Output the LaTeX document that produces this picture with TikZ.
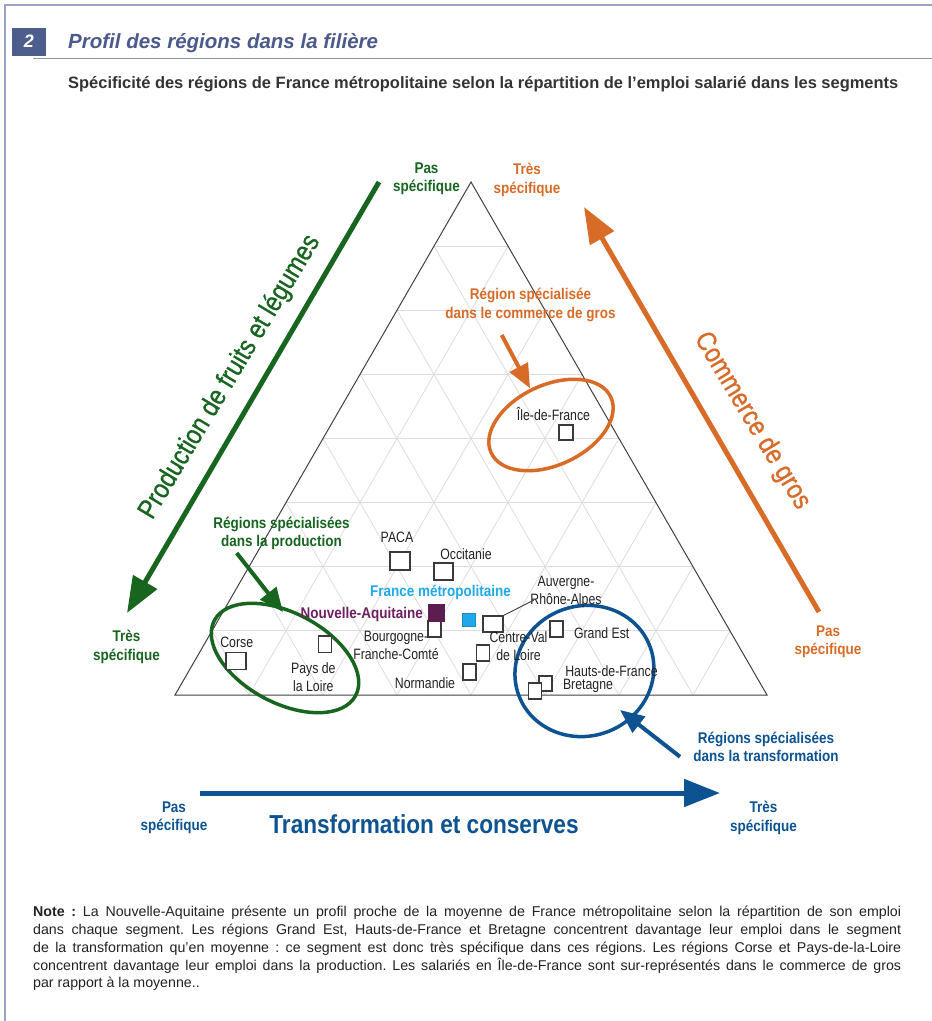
\documentclass[tikz,border=0pt]{standalone}
\usepackage{fontspec}
\setmainfont{Liberation Sans}
\newfontfamily\narrowf[FakeStretch=0.82]{Liberation Sans}
\newfontfamily\condf[FakeStretch=0.87]{Liberation Sans}
\newfontfamily\bigf[FakeStretch=0.86,FakeBold=0.8]{Liberation Sans}
\usetikzlibrary{calc,arrows.meta,shapes.geometric}
\definecolor{frameC}{HTML}{9AA3BF}
\definecolor{titleC}{HTML}{4B5A8A}
\definecolor{boxC}{HTML}{4E5E8C}
\definecolor{subC}{HTML}{333333}
\definecolor{gridC}{HTML}{DDDDDD}
\definecolor{triC}{HTML}{404040}
\definecolor{sqC}{HTML}{3A3A3A}
\definecolor{labC}{HTML}{222222}
\definecolor{greenC}{HTML}{17651F}
\definecolor{orangeC}{HTML}{D86B28}
\definecolor{blueC}{HTML}{0D5291}
\definecolor{cyanC}{HTML}{1FA8EA}
\definecolor{purpleC}{HTML}{5C1E4E}
\definecolor{purpleT}{HTML}{6E1F5F}
\definecolor{noteC}{HTML}{222222}
\begin{document}
\begin{tikzpicture}[x=1pt,y=-1pt,
  framel/.style={draw=frameC, line width=1.3pt},
  titleline/.style={draw=frameC!90!black, line width=1.3pt},
  gridline/.style={draw=gridC, line width=0.8pt},
  triline/.style={draw=triC, line width=1pt},
  sqbox/.style 2 args={draw=sqC, fill=white, line width=1.1pt, inner sep=0pt, minimum width=#1pt, minimum height=#2pt},
  reglab/.style={inner sep=0pt, text=labC, align=center, font=\narrowf\fontsize{15}{17.5}\selectfont},
  boldlab/.style={inner sep=0pt, align=center, font=\condf\bfseries\fontsize{15.5}{18.5}\selectfont},
  biglab/.style={inner sep=0pt, font=\bigf\fontsize{27.5}{30}\selectfont},
  bigarrow/.style={line width=5pt, -{Triangle[length=36pt,width=27pt]}},
  annarrow/.style={line width=4pt, -{Triangle[length=24pt,width=20pt]}},
  ringbox/.style={draw, ellipse, inner sep=0pt, line width=3.5pt}
]
\path[use as bounding box, fill=white] (0,0) rectangle (932,1021);

% frame
\draw[framel] (5,1021) -- (5,5) -- (932,5);

% header
\node[fill=boxC, minimum width=34pt, minimum height=28pt, inner sep=0pt, text=white,
      font=\bfseries\itshape\fontsize{18}{20}\selectfont] (num) at (29,41.5) {2};
\node[anchor=base west, inner sep=0pt, text=titleC,
      font=\bfseries\itshape\fontsize{20.5}{24}\selectfont] (title) at (68,48) {Profil des régions dans la filière};
\draw[titleline] (33,58.5) -- (932,58.5);
\node[anchor=base west, inner sep=0pt, text=subC,
      font=\bfseries\fontsize{16.45}{19}\selectfont] (sub) at (68,88)
  {Spécificité des régions de France métropolitaine selon la répartition de l’emploi salarié dans les segments};

% triangle and grid
\coordinate (A) at (175,695);
\coordinate (B) at (767,695);
\coordinate (C) at (471,182);
\foreach \i in {1,...,7} {
  \pgfmathsetmacro\t{\i/8}
  \draw[gridline] ($(A)!\t!(C)$) -- ($(B)!\t!(C)$);
  \draw[gridline] ($(A)!\t!(B)$) -- ($(C)!\t!(B)$);
  \draw[gridline] ($(B)!\t!(A)$) -- ($(C)!\t!(A)$);
}
\draw[triline] (A) -- (B) -- (C) -- cycle;

% ellipses
\node[ringbox, draw=orangeC, minimum width=132pt, minimum height=80pt, rotate=25] (oRing) at (551,425) {};
\node[ringbox, draw=greenC, minimum width=160pt, minimum height=90pt, rotate=-28] (gRing) at (285,658) {};
\node[ringbox, draw=blueC, minimum width=140pt, minimum height=130pt, rotate=20] (bRing) at (584.4,671) {};

% region squares
\node[sqbox={14}{15}] (idf) at (566,432.5) {};
\node[sqbox={20}{18}] (paca) at (400,561) {};
\node[sqbox={19}{17}] (occ) at (443.5,571.5) {};
\node[sqbox={13}{16}] (bfc) at (434.5,629) {};
\node[sqbox={16}{17}, fill=purpleC, draw=purpleC] (na) at (436.7,613.3) {};
\node[sqbox={13.5}{13.5}, fill=cyanC, draw=cyanC!85!black, line width=0.6pt] (fm) at (469,620) {};
\node[sqbox={20}{16}] (ara) at (493,624) {};
\node[sqbox={13}{16}] (cvl) at (483,653) {};
\node[sqbox={13}{16}] (nor) at (469.5,672) {};
\node[sqbox={13}{16}] (ge) at (556.5,629) {};
\node[sqbox={13}{15}] (hdf) at (545.5,683.5) {};
\node[sqbox={13.5}{16}] (bre) at (535,691) {};
\node[sqbox={20}{17}] (cor) at (236,661) {};
\node[sqbox={13.5}{16.7}] (pdl) at (325,644.3) {};

% region labels
\node[reglab] (idfL) at (553.5,414) {Île-de-France};
\node[reglab] (pacaL) at (397,537) {PACA};
\node[reglab] (occL) at (466,554) {Occitanie};
\node[boldlab, text=purpleT, anchor=east] (naL) at (423,614) {Nouvelle-Aquitaine};
\node[boldlab, text=cyanC] (fmL) at (440.5,592.3) {France métropolitaine};
\node[reglab] (bfcL) at (396,645.5) {Bourgogne-\\Franche-Comté};
\node[reglab] (araL) at (566,591.7) {Auvergne-\\Rhône-Alpes};
\node[reglab] (cvlL) at (518.5,646) {Centre-Val\\de Loire};
\node[reglab] (norL) at (425,683) {Normandie};
\node[reglab] (geL) at (601.7,633.3) {Grand Est};
\node[reglab] (hdfL) at (611.5,670.7) {Hauts-de-France};
\node[reglab] (breL) at (588,686) {Bretagne};
\node[reglab] (corL) at (236.7,642.7) {Corse};
\node[reglab] (pdlL) at (313.3,677) {Pays de\\la Loire};
\coordinate (araLead) at (534,600);
\draw[draw=sqC, line width=0.9pt] (ara.north east) -- (araLead);

% axis arrows
\coordinate (gS) at (379,182);
\coordinate (gE) at (127,613);
\draw[bigarrow, greenC] (gS) -- (gE);
\coordinate (oS) at (819,612);
\coordinate (oE) at (584,207);
\draw[bigarrow, orangeC] (oS) -- (oE);
\coordinate (bS) at (200,793);
\coordinate (bE) at (720,793);
\draw[bigarrow, blueC] (bS) -- (bE);

\node[biglab, text=greenC, rotate=59] (prodL) at (230,377) {Production de fruits et légumes};
\node[biglab, text=orangeC, rotate=-59] (comL) at (752,421) {Commerce de gros};
\node[biglab, text=blueC, font=\condf\bfseries\fontsize{26}{30}\selectfont] (traL) at (424,824) {Transformation et conserves};

% axis end labels
\node[boldlab, text=greenC] (gTop) at (426.5,178.7) {Pas\\spécifique};
\node[boldlab, text=orangeC] (oTop) at (527,180) {Très\\spécifique};
\node[boldlab, text=greenC] (gBot) at (126.5,647) {Très\\spécifique};
\node[boldlab, text=orangeC] (oBot) at (828,642) {Pas\\spécifique};
\node[boldlab, text=blueC] (bLeft) at (174,818) {Pas\\spécifique};
\node[boldlab, text=blueC] (bRight) at (763.5,818) {Très\\spécifique};

% annotations
\node[boldlab, text=orangeC] (oAnn) at (530.5,305) {Région spécialisée\\dans le commerce de gros};
\coordinate (oAS) at (501.7,335);
\coordinate (oAE) at (530,388.3);
\draw[annarrow, orangeC] (oAS) -- (oAE);

\node[boldlab, text=greenC] (gAnn) at (281.5,533.3) {Régions spécialisées\\dans la production};
\coordinate (gAS) at (236.7,553);
\coordinate (gAE) at (283,612);
\draw[annarrow, greenC] (gAS) -- (gAE);

\node[boldlab, text=blueC] (bAnn) at (766,746.7) {Régions spécialisées\\dans la transformation};
\coordinate (bAS) at (680,756.7);
\coordinate (bAE) at (620,710);
\draw[annarrow, blueC] (bAS) -- (bAE);

% note
\node[anchor=north west, inner sep=0pt, text width=868pt, align=justify, text=noteC,
      font=\fontsize{14.2}{17.8}\selectfont] (note) at (33,906)
  {\frenchspacing\hyphenpenalty=10000 \textbf{Note :} La Nouvelle-Aquitaine présente un profil proche de la moyenne de France métropolitaine selon la répartition de son emploi\linebreak
  dans chaque segment. Les régions Grand Est, Hauts-de-France et Bretagne concentrent davantage leur emploi dans le segment\linebreak
  de la transformation qu’en moyenne : ce segment est donc très spécifique dans ces régions. Les régions Corse et Pays-de-la-Loire\linebreak
  concentrent davantage leur emploi dans la production. Les salariés en Île-de-France sont sur-représentés dans le commerce de gros\linebreak
  par rapport à la moyenne..\par};
\end{tikzpicture}
\end{document}
